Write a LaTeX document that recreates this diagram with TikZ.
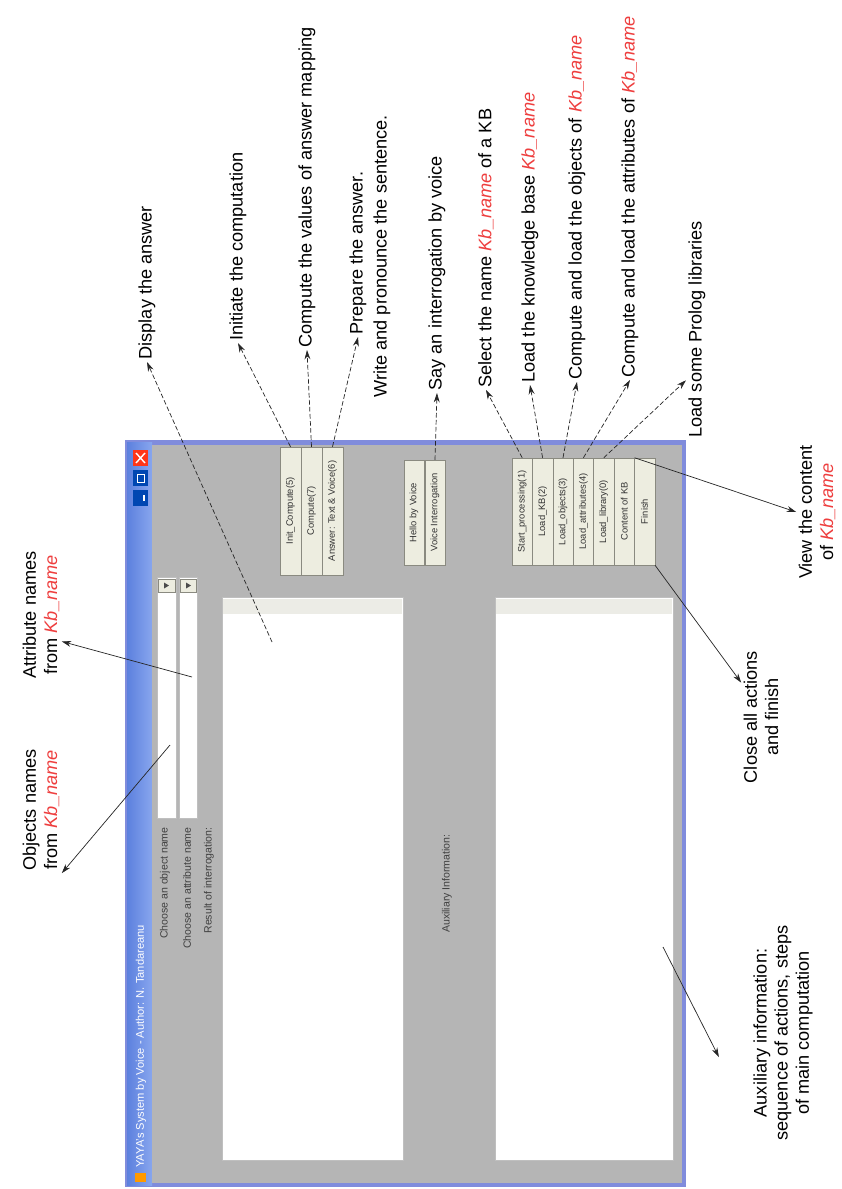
\documentclass[tikz,border=0pt]{standalone}
\usepackage{xcolor}
\usepackage{fontspec}
\setmainfont{Liberation Sans}
\usepackage{tikz}
\usetikzlibrary{arrows.meta, calc}

\definecolor{winborder}{RGB}{128,140,220}
\definecolor{titleblue}{RGB}{92,128,222}
\definecolor{titlelight}{RGB}{136,166,238}
\definecolor{panelgray}{RGB}{181,181,181}
\definecolor{btnfill}{RGB}{237,237,224}
\definecolor{btnline}{RGB}{138,138,128}
\definecolor{scrollgray}{RGB}{236,236,230}
\definecolor{kbred}{RGB}{238,62,62}

\newcommand{\kbn}{\textcolor{kbred}{\itshape Kb\_name}}

\begin{document}
\begin{tikzpicture}[>={Stealth[length=8pt,width=5pt]}, x=0.03cm, y=-0.03cm]

        % Styles
        \tikzstyle{note} = [rotate=90, anchor=west, inner sep=2pt, font=\fontsize{15.5}{18}\selectfont]
        \tikzstyle{notes} = [rotate=90, align=center, inner sep=2pt, font=\fontsize{15.5}{18}\selectfont]
        \tikzstyle{uitext} = [rotate=90, anchor=east, inner sep=1pt, text=black!75, font=\fontsize{9}{10}\selectfont]
        \tikzstyle{btn} = [draw=btnline, fill=btnfill, rotate=90, inner sep=0pt, text=black!80, font=\fontsize{8}{9}\selectfont]
        \tikzstyle{btnA} = [btn, minimum width=3.84cm, minimum height=0.63cm]
        \tikzstyle{btnB} = [btn, minimum width=3.15cm, minimum height=0.615cm]
        \tikzstyle{btnC} = [btn, minimum width=3.21cm, minimum height=0.612cm]
        \tikzstyle{field} = [draw=black!25, fill=white, inner sep=0pt]
        \tikzstyle{dasharrow} = [->, line width=0.6pt, black!85, dash pattern=on 4pt off 2pt]
        \tikzstyle{linearrow} = [->, line width=0.6pt, black!85]

        \useasboundingbox (0,0) rectangle (841,1189);
        \fill[white] (0,0) rectangle (841,1189);

        % Window frame and title bar
        \fill[winborder] (125,440) rectangle (686,1187);
        \shade[left color=titleblue, right color=titlelight] (127,442) rectangle (152,1185);
        \fill[panelgray] (152,445) rectangle (682,1183);
        \fill[red!75!orange!90] (133,450) rectangle (148,466);
        \draw[white, line width=1.2pt] (136,453) -- (145,463) (136,463) -- (145,453);
        \fill[blue!60!cyan!70!black] (133,470) rectangle (148,486);
        \draw[white, line width=0.8pt] (137,474) rectangle (144,482);
        \fill[blue!60!cyan!70!black] (133,490) rectangle (148,506);
        \draw[white, line width=1.2pt] (144,495) -- (144,501);
        \fill[orange!80!yellow] (135,1173) rectangle (146,1182);
        \node[rotate=90, anchor=west, text=white, inner sep=1pt, font=\fontsize{9.5}{11}\selectfont] (title) at (141,1169) {YAYA's System by Voice - Author: N. Tandareanu};

        % Combo boxes
        \node[field, minimum width=0.57cm, minimum height=7.23cm] (cobj) at (166.5,697.5) {};
        \node[field, minimum width=0.54cm, minimum height=7.23cm] (cattr) at (188,697.5) {};
        \draw[btnline, fill=btnfill] (158,579) rectangle (175,592);
        \fill[black!70] (164,582.5) -- (164,588.5) -- (169,585.5) -- cycle;
        \draw[btnline, fill=btnfill] (180,579) rectangle (196,592);
        \fill[black!70] (186,582.5) -- (186,588.5) -- (191,585.5) -- cycle;
        \node[uitext] (tobj) at (165,826) {Choose an object name};
        \node[uitext] (tattr) at (187,826) {Choose an attribute name};
        \node[uitext] (tres) at (209,826) {Result of interrogation:};

        % Text areas
        \node[field, minimum width=5.43cm, minimum height=16.89cm] (ans) at (312.5,878.5) {};
        \fill[scrollgray] (223,599) rectangle (402,614);
        \node[uitext] (taux) at (447,833) {Auxiliary Information:};
        \node[field, minimum width=5.34cm, minimum height=16.89cm] (aux) at (584,878.5) {};
        \fill[scrollgray] (496,599) rectangle (672,614);

        % Buttons
        \node[btnA] (bInit) at (290.5,511) {Init\_Compute(5)};
        \node[btnA] (bComp) at (311.5,511) {Compute(7)};
        \node[btnA] (bAns) at (332.5,511) {Answer: Text \& Voice(6)};
        \node[btnB] (bHello) at (414,512.5) {Hello by Voice};
        \node[btnB] (bVoice) at (435,512.5) {Voice Interrogation};
        \node[btnC] (bStart) at (522.2,511.5) {Start\_processing(1)};
        \node[btnC] (bKB) at (542.6,511.5) {Load\_KB(2)};
        \node[btnC] (bObj) at (563,511.5) {Load\_objects(3)};
        \node[btnC] (bAttr) at (583.4,511.5) {Load\_attributes(4)};
        \node[btnC] (bLib) at (603.8,511.5) {Load\_library(0)};
        \node[btnC] (bCont) at (624.2,511.5) {Content of KB};
        \node[btnC] (bFin) at (644.6,511.5) {Finish};

        % Points inside the fields
        \coordinate (ansPt) at (272,642);
        \coordinate (objPt) at (170,745);
        \coordinate (attrPt) at (192,677);
        \coordinate (auxPt) at (663,947);

        % Notes
        \node[note] (disp) at (147,362) {Display the answer};
        \node[note] (initc) at (238,343) {Initiate the computation};
        \node[note] (cvals) at (307,350) {Compute the values of answer mapping};
        \node[note] (prep1) at (358,337) {Prepare the answer.};
        \node[note] (prep2) at (382,400) {Write and pronounce the sentence.};
        \node[note] (say) at (437,393) {Say an interrogation by voice};
        \node[note] (sel) at (486,390) {Select the name \kbn{} of a KB};
        \node[note] (lkb) at (530,385) {Load the knowledge base \kbn};
        \node[note] (lobj) at (577,382) {Compute and load the objects of \kbn};
        \node[note] (lattr) at (630,380) {Compute and load the attributes of \kbn};
        \node[note] (lprol) at (697,440) {Load some Prolog libraries};
        \node[notes] (view) at (817,512) {View the content\\of \kbn};
        \node[notes] (close) at (761,717) {Close all actions\\and finish};
        \node[notes] (auxn) at (783,1033) {Auxiliary information:\\sequence of actions, steps\\of main computation};
        \node[notes] (attr) at (41,615) {Attribute names\\from \kbn};
        \node[notes] (obj) at (41,810) {Objects names\\from \kbn};

        % Arrows from the window
        \draw[dasharrow] (ansPt) -- (disp.west);
        \draw[dasharrow] (bInit.east) -- (initc.west);
        \draw[dasharrow] (bComp.east) -- (cvals.west);
        \draw[dasharrow] (bAns.east) -- (prep1.west);
        \draw[dasharrow] (bVoice.east) -- (say.west);
        \draw[dasharrow] (bStart.east) -- (sel.west);
        \draw[dasharrow] (bKB.east) -- (lkb.west);
        \draw[dasharrow] (bObj.east) -- (lobj.west);
        \draw[dasharrow] (bAttr.east) -- (lattr.west);
        \draw[dasharrow] (bLib.east) -- ($(lprol.north west)!0.27!(lprol.north east)$);
        \draw[linearrow] (bCont.south east) -- (view.north);
        \draw[linearrow] (bFin.south west) -- ($(close.north)!0.5!(close.north east)$);
        \draw[linearrow] (auxPt) -- ($(auxn.north)+(-32,24)$);
        \draw[linearrow] (attrPt) -- ($(attr.south)!0.4!(attr.south west)$);
        \draw[linearrow] (objPt) -- (obj.south west);

\end{tikzpicture}
\end{document}
